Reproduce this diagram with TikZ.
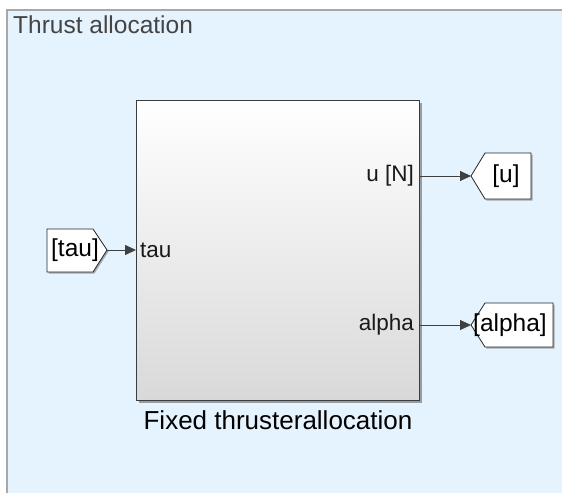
\documentclass[tikz,border=0pt]{standalone}
\usepackage{fontspec}
\setmainfont{Liberation Sans}
\usetikzlibrary{arrows.meta,shadows}
\definecolor{areabg}{HTML}{E5F3FE}
\definecolor{areaedge}{HTML}{A8A8A8}
\definecolor{blockedge}{HTML}{3C3C3C}
\definecolor{labelgray}{HTML}{444444}
\tikzset{
  area/.style={fill=areabg},
  areaborder/.style={draw=areaedge, line width=1.5pt},
  subsystem/.style={draw=blockedge, line width=1.4pt, top color=white, bottom color=black!15,
    drop shadow={shadow xshift=2pt, shadow yshift=-2pt, opacity=0.35, fill=black}},
  tagbox/.style={draw=black!85, line width=0.8pt, fill=white,
    drop shadow={shadow xshift=1.5pt, shadow yshift=-1.5pt, opacity=0.3, fill=black}},
  tagtext/.style={font=\fontsize{24.5}{27}\selectfont, inner sep=0pt, text=black},
  portlabel/.style={font=\fontsize{22.5}{25}\selectfont, inner sep=0pt, text=black!90},
  signal/.style={draw=black!75, line width=0.8pt, -{Triangle[length=11pt,width=10pt]}},
}
\begin{document}
\begin{tikzpicture}[x=1pt,y=-1pt]
  \useasboundingbox (0,0) rectangle (562,493);
  % area annotation
  \fill[area] (7,10) rectangle (562,493);
  \draw[areaborder] (7,493) -- (7,10) -- (562,10);
  \node[anchor=west, font=\fontsize{24.5}{27}\selectfont, text=labelgray, inner sep=0pt] (title) at (13,25) {Thrust allocation};

  % subsystem block
  \node[subsystem, minimum width=283pt, minimum height=300pt, inner sep=0pt, anchor=north west] (blk) at (136,100) {};
  \node[font=\fontsize{26}{28}\selectfont, inner sep=0pt] (blkname) at (278,420) {Fixed thrusterallocation};

  % port labels
  \node[portlabel, anchor=west] (ptau) at (140,250) {tau};
  \node[portlabel, anchor=east] (pu) at (414,176) {u [N]};
  \node[portlabel, anchor=east] (palpha) at (414,325) {alpha};

  % From tag [tau]
  \coordinate (tauTip) at (107,250);
  \draw[tagbox] (47,229) -- (93,229) -- (tauTip) -- (93,272) -- (47,272) -- cycle;
  \node[tagtext] (tauTag) at (75,250) {[tau]};

  % Goto tag [u]
  \coordinate (uTip) at (471,176);
  \draw[tagbox] (uTip) -- (485,153) -- (531,153) -- (531,199) -- (485,199) -- cycle;
  \node[tagtext] (uTag) at (506,176) {[u]};

  % Goto tag [alpha]
  \coordinate (alphaTip) at (471,325);
  \draw[tagbox] (alphaTip) -- (485,303) -- (553,303) -- (553,347) -- (485,347) -- cycle;
  \node[tagtext] (alphaTag) at (510,325) {[alpha]};

  % signal lines
  \draw[signal] (tauTip) -- (blk.west |- tauTip);
  \draw[signal] (blk.east |- uTip) -- (uTip);
  \draw[signal] (blk.east |- alphaTip) -- (alphaTip);
\end{tikzpicture}
\end{document}
